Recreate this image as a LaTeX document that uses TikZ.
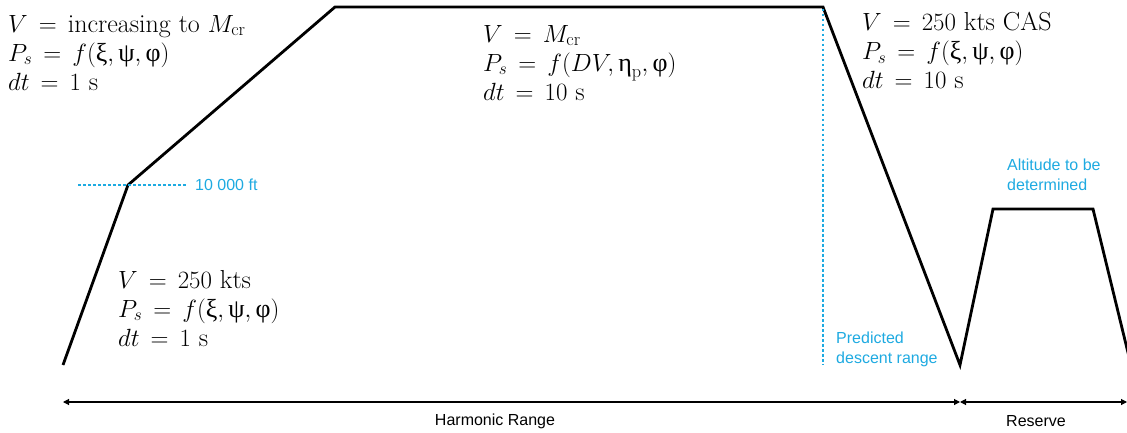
\documentclass[tikz,border=0pt]{standalone}
\usepackage{amsmath}
\usepackage{fontspec}
\newfontfamily\lsans{Liberation Sans}
\newfontfamily\grk{Liberation Serif}
\newcommand{\gx}[1]{\text{\grk #1}}
\newcommand{\widerel}{\thickmuskip=8mu plus 2mu\relax}
\usetikzlibrary{arrows.meta}
\definecolor{lblue}{RGB}{30,170,225}
\tikzset{
  profile/.style={line width=2.8pt, line join=miter},
  guide/.style={lblue, line width=1.4pt, dash pattern=on 2.5pt off 2.5pt},
  bluelbl/.style={lblue, font=\lsans\fontsize{16}{20}\selectfont, align=left, inner sep=0pt},
  eqblock/.style={font=\fontsize{26}{29}\selectfont\widerel, align=left, inner sep=0pt, anchor=north west},
  rangearrow/.style={line width=1.1pt, {Triangle[length=6pt,width=6pt]}-{Triangle[length=6pt,width=6pt]}},
  rangelbl/.style={font=\lsans\fontsize{16}{18}\selectfont, inner sep=0pt}
}
\begin{document}
\begin{tikzpicture}[x=1pt,y=-1pt]
\useasboundingbox (0,0) rectangle (1127,433);
% profile points
\coordinate (p0) at (63,365);
\coordinate (p1) at (128,185);
\coordinate (p2) at (335,7);
\coordinate (p3) at (823,7);
\coordinate (p4) at (960,365);
\coordinate (p5) at (993,209);
\coordinate (p6) at (1093,209);
\coordinate (p7) at (1131,365);
\begin{scope}
\clip (0,0) rectangle (1127,433);
\draw[profile] (p0) -- (p1) -- (p2) -- (p3) -- (p4) -- (p5) -- (p6) -- (p7);
\end{scope}
% guides
\coordinate (g0) at (78,185);
\coordinate (g1) at (186,185);
\draw[guide] (g0) -- (g1);
\node[bluelbl, anchor=west] (alt10) at (195,185) {10 000 ft};
\coordinate (v0) at (823,9);
\coordinate (v1) at (823,365);
\draw[guide] (v0) -- (v1);
\node[bluelbl, anchor=south west] (pdr) at (836,367) {Predicted\\descent range};
\node[bluelbl, anchor=south west] (atbd) at (1007,191) {Altitude to be\\determined};
% equation blocks
\node[eqblock] (e1) at (8,15) {$V = \text{increasing to } M_{\mathrm{cr}}$\\$P_s = f(\gx{ξ}, \gx{ψ}, \gx{φ})$\\$dt = 1\ \mathrm{s}$};
\node[eqblock] (e2) at (483,25) {$V = M_{\mathrm{cr}}$\\$P_s = f(DV, \gx{η}_{\mathrm{p}}, \gx{φ})$\\$dt = 10\ \mathrm{s}$};
\node[eqblock] (e3) at (862,12) {$V = 250\ \mathrm{kts\ CAS}$\\$P_s = f(\gx{ξ}, \gx{ψ}, \gx{φ})$\\$dt = 10\ \mathrm{s}$};
\node[eqblock] (e4) at (118,270) {$V = 250\ \mathrm{kts}$\\$P_s = f(\gx{ξ}, \gx{ψ}, \gx{φ})$\\$dt = 1\ \mathrm{s}$};
% ranges
\coordinate (r0) at (63,402);
\coordinate (r1) at (960,402);
\coordinate (r2) at (1127,402);
\draw[rangearrow] (r0) -- (r1);
\draw[rangearrow] (r1) -- (r2);
\node[rangelbl] (hr) at (495,421) {Harmonic Range};
\node[rangelbl] (res) at (1036,421) {Reserve};
\end{tikzpicture}
\end{document}
